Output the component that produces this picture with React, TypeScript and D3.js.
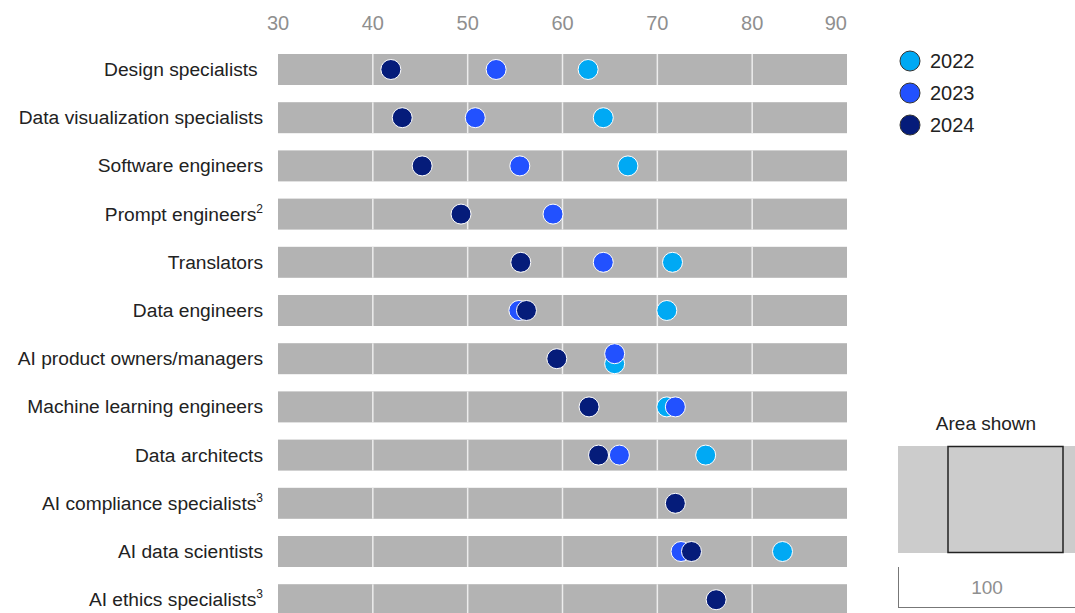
import React from "react";
import * as d3 from "d3";

const categories = [
  "Design specialists ",
  "Data visualization specialists",
  "Software engineers",
  "Prompt engineers",
  "Translators",
  "Data engineers",
  "AI product owners/managers",
  "Machine learning engineers",
  "Data architects",
  "AI compliance specialists",
  "AI data scientists",
  "AI ethics specialists",
];
const superscripts = ["", "", "", "2", "", "", "", "", "", "3", "", "3"];

const years = ["2022", "2023", "2024"];
const values2022: (number | null)[] = [62.7, 64.3, 66.9, null, 71.6, 71.0, 65.5, 71.0, 75.1, null, 83.2, null];
const values2023: (number | null)[] = [53.0, 50.8, 55.5, 59.0, 64.3, 55.4, 65.5, 71.9, 66.0, null, 72.5, null];
const values2024: (number | null)[] = [41.9, 43.1, 45.2, 49.3, 55.6, 56.2, 59.4, 62.8, 63.8, 71.9, 73.6, 76.2];
const seriesValues = [values2022, values2023, values2024];
const colors = ["#00A9F4", "#2251FF", "#051C7A"];
const xTicks = [30, 40, 50, 60, 70, 80, 90];

export default function App() {
  const W = 1075;
  const H = 613;
  const x = d3.scaleLinear().domain([30, 90]).range([278, 847]);
  const y = d3
    .scaleBand<string>()
    .domain(categories)
    .range([54, 54 + 11 * 48.2 + 31])
    .paddingInner(0.357)
    .paddingOuter(0);
  const bw = y.bandwidth();
  const r = 10;
  const font = "'Liberation Sans', Arial, Helvetica, sans-serif";

  return (
    <svg width={W} height={H} style={{ position: "absolute", left: 0, top: 0, fontFamily: font }}>
      {/* axis labels */}
      {xTicks.map((t, i) => (
        <text
          key={t}
          x={x(t)}
          y={30}
          textAnchor={i === xTicks.length - 1 ? "end" : "middle"}
          fontSize={20}
          fill="#8f8f8f"
        >
          {t}
        </text>
      ))}
      {/* rows */}
      {categories.map((c, i) => {
        const y0 = y(c)!;
        return (
          <g key={c}>
            <rect x={x(30)} y={y0} width={x(90) - x(30)} height={bw} fill="#B3B3B3" />
            {xTicks.slice(1, -1).map((t) => (
              <line key={t} x1={x(t)} x2={x(t)} y1={y0} y2={y0 + bw} stroke="#EDEDED" strokeWidth={1.5} />
            ))}
            <text
              x={263}
              y={y0 + bw / 2 + 6.5}
              textAnchor="end"
              fontSize={19.2}
              fill="#222"
              style={{ whiteSpace: "pre" }}
            >
              {c}
              {superscripts[i] && (
                <tspan dy={-8} fontSize={12}>
                  {superscripts[i]}
                </tspan>
              )}
            </text>
          </g>
        );
      })}
      {/* dots */}
      {seriesValues.map((vals, si) =>
        vals.map((v, i) => {
          if (v == null) return null;
          const cy0 = y(categories[i])! + bw / 2;
          // vertical offset when two series share the exact same value
          let dy = 0;
          const same = seriesValues.filter((s) => s[i] === v).length;
          if (same > 1) {
            const earlier = seriesValues.slice(0, si).some((s) => s[i] === v);
            dy = earlier ? -5 : 5;
          }
          return (
            <circle
              key={si + "-" + i}
              cx={x(v)}
              cy={cy0 + dy}
              r={r}
              fill={colors[si]}
              stroke="#fff"
              strokeWidth={1}
            />
          );
        })
      )}
      {/* legend */}
      {years.map((yr, i) => (
        <g key={yr}>
          <circle cx={910} cy={61 + i * 32} r={10} fill={colors[i]} stroke="#333" strokeWidth={1} />
          <text x={930} y={68 + i * 32} fontSize={20} fill="#222">
            {yr}
          </text>
        </g>
      ))}
      {/* area shown inset */}
      <text x={986} y={430} textAnchor="middle" fontSize={19} fill="#222">
        Area shown
      </text>
      <rect x={898} y={446} width={W - 898} height={107} fill="#CCCCCC" />
      <rect x={948} y={446.5} width={115} height={106} fill="#CCCCCC" stroke="#222" strokeWidth={1.5} />
      <line x1={898.5} x2={898.5} y1={567} y2={608} stroke="#777" strokeWidth={1} />
      <line x1={898} x2={W} y1={607.5} y2={607.5} stroke="#777" strokeWidth={1} />
      <text x={987} y={594} textAnchor="middle" fontSize={19} fill="#8f8f8f">
        100
      </text>
    </svg>
  );
}
